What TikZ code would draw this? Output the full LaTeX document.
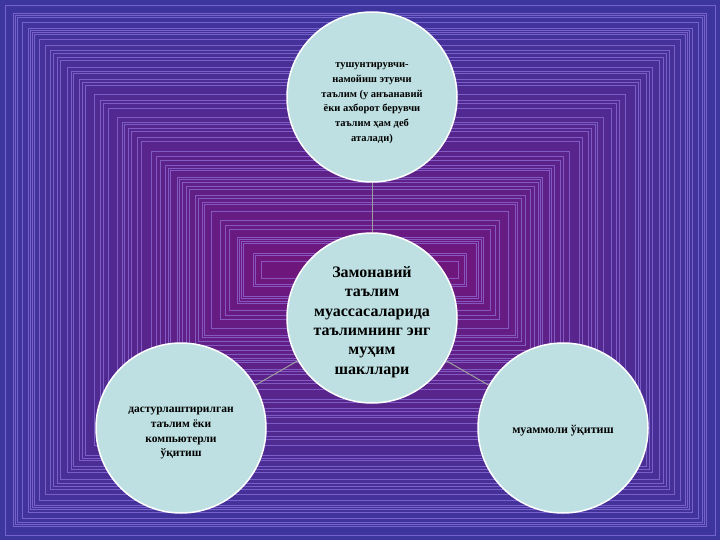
\documentclass[tikz,border=0pt]{standalone}
\usepackage{fontspec}
\setmainfont{Liberation Serif}
\usetikzlibrary{positioning}
\definecolor{bgout}{RGB}{60,54,158}
\definecolor{bgin}{RGB}{112,22,124}
\definecolor{bgline}{RGB}{155,128,235}
\definecolor{discfill}{RGB}{190,224,226}
\newcommand{\lift}[1]{\rule{0pt}{#1}}
\tikzset{
  disc/.style={circle, draw=white, line width=1.5pt, fill=discfill, minimum size=170pt,
    inner sep=0pt, align=center, text=black, font=\bfseries\fontsize{11.5}{14.7}\selectfont},
  bigtext/.style={font=\bfseries\fontsize{16}{19.3}\selectfont},
  link/.style={draw=gray!75, line width=1pt}
}
\begin{document}
\begin{tikzpicture}[x=1pt,y=-1pt]
\useasboundingbox (0,0) rectangle (720,540);
% background of nested frames
\foreach \i in {0,...,66} {
  \pgfmathsetmacro{\mix}{100-1.5*\i}
  \fill[bgout!\mix!bgin] (\i*4,\i*4) rectangle (720-\i*4,540-\i*4);
}
\pgfmathsetseed{5}
\gdef\ins{1}
\foreach \k in {1,...,58} {
  \pgfmathsetmacro{\nxt}{min(\ins+2+8*rnd^2,266)}
  \xdef\ins{\nxt}
  \draw[bgline, line width=0.6pt, opacity=0.6] (\ins,\ins) rectangle (720-\ins,540-\ins);
}
% circles
\node[disc, font=\bfseries\fontsize{10.5}{14.7}\selectfont] (top) at (372,97) {\lift{17pt}тушунтирувчи-\\намойиш этувчи\\таълим (у анъанавий\\ёки ахборот берувчи\\таълим ҳам деб\\аталади)};
\node[disc, bigtext] (centre) at (372,318) {\lift{19pt}Замонавий\\таълим\\муассасаларида\\таълимнинг энг\\муҳим\\шакллари};
\node[disc] (left) at (181,428) {\lift{16pt}дастурлаштирилган\\таълим ёки\\компьютерли\\ўқитиш};
\node[disc, font=\bfseries\fontsize{12}{14.7}\selectfont] (right) at (563,428) {\lift{14pt}муаммоли ўқитиш};
% links
\draw[link] (centre) -- (top);
\draw[link] (centre) -- (left);
\draw[link] (centre) -- (right);
\end{tikzpicture}
\end{document}
